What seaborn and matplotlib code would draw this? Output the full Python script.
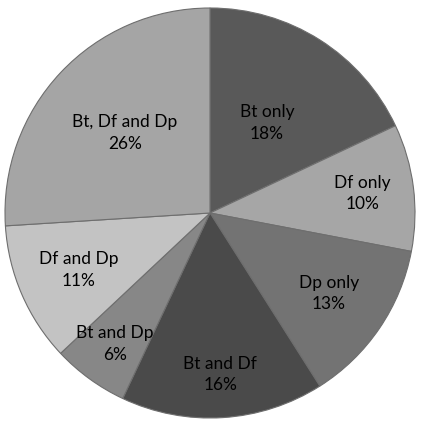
import numpy as np
import matplotlib.pyplot as plt
import seaborn as sns

# slice data, clockwise from 12 o'clock
categories = ['Bt only', 'Df only', 'Dp only', 'Bt and Df', 'Bt and Dp', 'Df and Dp', 'Bt, Df and Dp']
shares = [18, 10, 13, 16, 6, 11, 26]

greys = ['#595959', '#a6a6a6', '#737373', '#4a4a4a', '#878787', '#c3c3c3', '#a5a5a5']
label_dist = [0.52, 0.75, 0.70, 0.79, 0.79, 0.70, 0.57]

sns.set_theme(style='white')
plt.rcParams['font.family'] = ['Lato', 'DejaVu Sans']

fig = plt.figure(figsize=(4.25, 4.3), dpi=100)
ax = fig.add_axes([5 / 425, 12 / 430, 410 / 425, 410 / 430])

wedges, _ = ax.pie(shares, colors=greys, startangle=90, counterclock=False,
                   wedgeprops=dict(edgecolor='#6e6e6e', linewidth=0.8))

for w, name, val, d in zip(wedges, categories, shares, label_dist):
    mid = np.deg2rad((w.theta1 + w.theta2) / 2)
    ax.text(d * np.cos(mid), d * np.sin(mid), f'{name}\n{val}%',
            ha='center', va='center', fontsize=12.5, color='black', linespacing=1.4)

ax.set_xlim(-1.0, 1.0)
ax.set_ylim(-1.0, 1.0)
ax.set_aspect('equal')
fig.savefig('out.png', dpi=100, facecolor='white')
